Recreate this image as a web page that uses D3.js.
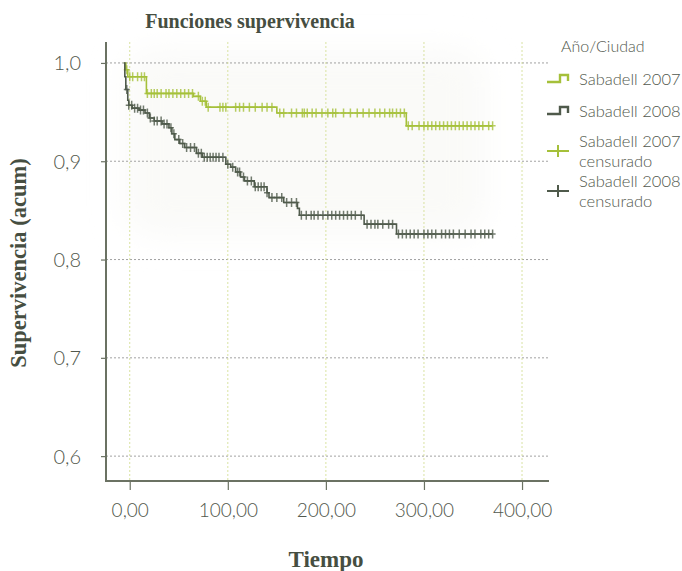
<!DOCTYPE html>
<html>
<head>
<meta charset="utf-8">
<script src="https://cdn.jsdelivr.net/npm/d3@7"></script>
<style>
  body { margin: 0; background: #fff; }
  svg { display: block; }
</style>
</head>
<body>
<svg id="chart" width="682" height="571"></svg>
<script>
// step points: [tiempo, supervivencia]
var steps2007 = [[-6, 1.0], [-4, 0.993], [-2, 0.986], [17, 0.969], [65, 0.966], [72, 0.961], [78, 0.955],
  [150, 0.949], [282, 0.936], [370, 0.936]];
var steps2008 = [[-6, 1.0], [-5, 0.986], [-4, 0.973], [-2, 0.962], [-1, 0.957], [2.5, 0.954], [9.5, 0.952],
  [15.6, 0.949], [20, 0.944], [25, 0.941], [33, 0.938], [40, 0.934], [43, 0.928], [46, 0.922], [51, 0.918],
  [56, 0.914], [68, 0.908], [74, 0.904], [98, 0.897], [103, 0.894], [108, 0.889], [113, 0.884], [117, 0.880],
  [127, 0.874], [140, 0.868], [142, 0.863], [157, 0.858], [171, 0.852], [173, 0.845], [239, 0.836],
  [272, 0.826], [370, 0.826]];

// censored times
var cens2007 = [-3, 0, 3, 8, 12, 15, 18, 22, 25, 28, 32, 37, 40, 44, 48, 52, 56, 60, 64, 70, 74, 77, 80,
  92, 95, 98, 108, 112, 116, 122, 128, 135, 140, 145, 153, 157, 165, 170, 176, 178, 181, 186, 190, 196,
  202, 207, 210, 218, 225, 232, 238, 244, 250, 255, 260, 265, 268, 272, 276, 280, 284, 288, 295, 300,
  304, 308, 312, 316, 320, 324, 328, 332, 336, 340, 344, 348, 352, 356, 360, 366, 370];
var cens2008 = [-3, -1, 2, 5, 8, 11, 14, 18, 21, 25, 28, 32, 35, 38, 42, 45, 50, 54, 58, 62, 66, 70, 73,
  76, 79, 82, 85, 88, 91, 95, 100, 105, 110, 112, 116, 120, 124, 128, 131, 134, 137, 140, 145, 150, 155,
  160, 165, 170, 175, 180, 185, 188, 192, 197, 202, 206, 210, 214, 218, 222, 226, 230, 236, 242, 246,
  250, 253, 258, 264, 268, 274, 278, 282, 286, 290, 294, 300, 304, 308, 312, 318, 322, 326, 330, 336,
  342, 348, 352, 358, 362, 366, 370];

var xTicks = [0, 100, 200, 300, 400];
var yTicks = [0.6, 0.7, 0.8, 0.9, 1.0];
var legendItems = ["Sabadell 2007", "Sabadell 2008", "Sabadell 2007|censurado", "Sabadell 2008|censurado"];

var
svg = d3.select('#chart'),
green = '#a5c03a',
dark = '#4f5a4b',
textCol = '#464e41',
labelCol = '#52584d',
pLeft = 106, pRight = 549, pTop = 42, pBottom = 481;

var x = d3.scaleLinear().domain([-24.2, 427.5]).range([pLeft, pRight]);
var y = d3.scaleLinear().domain([0.5747, 1.0213]).range([pBottom, pTop]);

var fmtComma = function (d, n) { return d3.format('.' + n + 'f')(d).replace('.', ','); };

// faint shading behind curves
var defs = svg.append('defs');
defs.append('filter').attr('id', 'soft').attr('x', '-20%').attr('y', '-20%').attr('width', '140%').attr('height', '140%')
  .append('feGaussianBlur').attr('stdDeviation', 16);
svg.append('rect')
  .attr('x', 125).attr('y', 50).attr('width', 360).attr('height', 185)
  .attr('rx', 30)
  .attr('fill', '#fafaf8')
  .attr('filter', 'url(#soft)');

// grid
svg.append('g').selectAll('line').data(yTicks).enter().append('line')
  .attr('x1', pLeft).attr('x2', pRight)
  .attr('y1', function (d) { return y(d); }).attr('y2', function (d) { return y(d); })
  .attr('stroke', '#8a8a8a').attr('stroke-width', 0.8).attr('stroke-dasharray', '2,2');
svg.append('g').selectAll('line').data(xTicks).enter().append('line')
  .attr('x1', function (d) { return x(d); }).attr('x2', function (d) { return x(d); })
  .attr('y1', pTop).attr('y2', pBottom)
  .attr('stroke', '#cfdc8a').attr('stroke-width', 0.8).attr('stroke-dasharray', '2,2');

// axes
var yAxis = d3.axisLeft(y).tickValues(yTicks).tickSize(5).tickPadding(20)
  .tickFormat(function (d) { return fmtComma(d, 1); });
var xAxis = d3.axisBottom(x).tickValues(xTicks).tickSize(9).tickPadding(14)
  .tickFormat(function (d) { return fmtComma(d, 2); });

var gy = svg.append('g').attr('transform', 'translate(' + pLeft + ',0)').call(yAxis);
var gx = svg.append('g').attr('transform', 'translate(0,' + pBottom + ')').call(xAxis);
[gx, gy].forEach(function (g) {
  g.select('.domain').remove();
  g.selectAll('.tick line').attr('stroke', '#6b7263').attr('stroke-width', 1.2);
  g.selectAll('.tick text').attr('fill', labelCol)
    .style('font-family', 'Lato, sans-serif').style('font-weight', 300).style('font-size', '19px');
});
gy.selectAll('.tick text').attr('dy', '0.35em').style('font-size', '20px');

svg.append('path')
  .attr('d', 'M' + pLeft + ',' + pTop + 'V' + pBottom + 'H' + pRight)
  .attr('fill', 'none').attr('stroke', '#6b7263').attr('stroke-width', 2);

// curves
var line = d3.line()
  .x(function (d) { return x(d[0]); })
  .y(function (d) { return y(d[1]); })
  .curve(d3.curveStepAfter);

function survAt(steps, t) {
  var s = steps[0][1];
  steps.forEach(function (p) { if (p[0] <= t) { s = p[1]; } });
  return s;
}

function plus(cx, cy, hw, hh) {
  return 'M' + (cx - hw) + ',' + cy + 'H' + (cx + hw) + 'M' + cx + ',' + (cy - hh) + 'V' + (cy + hh);
}

[[steps2007, cens2007, green], [steps2008, cens2008, dark]].forEach(function (s) {
  var steps = s[0], cens = s[1], col = s[2];
  svg.append('path').datum(steps)
    .attr('d', line)
    .attr('fill', 'none').attr('stroke', col).attr('stroke-width', 1.6);
  svg.append('g').selectAll('path').data(cens).enter().append('path')
    .attr('d', function (t) { return plus(x(t), y(survAt(steps, t)), 3, 4.5); })
    .attr('stroke', col).attr('stroke-width', 1.5).attr('opacity', 0.8).attr('fill', 'none');
});

// titles
svg.append('text').text('Funciones supervivencia')
  .attr('x', 250).attr('y', 28).attr('text-anchor', 'middle')
  .attr('fill', textCol)
  .style('font-family', '"Liberation Serif", serif').style('font-weight', 'bold').style('font-size', '20px');
svg.append('text').text('Tiempo')
  .attr('x', 326).attr('y', 567).attr('text-anchor', 'middle')
  .attr('fill', textCol)
  .style('font-family', '"Liberation Serif", serif').style('font-weight', 'bold').style('font-size', '23px');
svg.append('text').text('Supervivencia (acum)')
  .attr('transform', 'translate(26,263) rotate(-90)').attr('text-anchor', 'middle')
  .attr('fill', textCol)
  .style('font-family', '"Liberation Serif", serif').style('font-weight', 'bold').style('font-size', '22.5px');

// legend
var lg = svg.append('g');
lg.append('text').text('Año/Ciudad')
  .attr('x', 561).attr('y', 52)
  .attr('fill', labelCol)
  .style('font-family', 'Lato, sans-serif').style('font-weight', 300).style('font-size', '16px');

var rowY = [79, 111, 151, 191];
legendItems.forEach(function (label, i) {
  var col = i % 2 === 0 ? green : dark;
  var cy = rowY[i];
  if (i < 2) {
    lg.append('path')
      .attr('d', 'M547,' + (cy + 3) + 'H560V' + (cy - 4) + 'H568V' + (cy + 2))
      .attr('fill', 'none').attr('stroke', col).attr('stroke-width', 2.4);
  } else {
    lg.append('path').attr('d', plus(558, cy, 11, 6))
      .attr('stroke', col).attr('stroke-width', 2).attr('fill', 'none');
  }
  var parts = label.split('|');
  var t = lg.append('text')
    .attr('fill', labelCol)
    .style('font-family', 'Lato, sans-serif').style('font-weight', 300).style('font-size', '16.5px');
  parts.forEach(function (p, j) {
    t.append('tspan').text(p).attr('x', 579)
      .attr('y', cy + 6 + (parts.length > 1 ? (j * 20 - 10) : 0));
  });
});
</script>
</body>
</html>
